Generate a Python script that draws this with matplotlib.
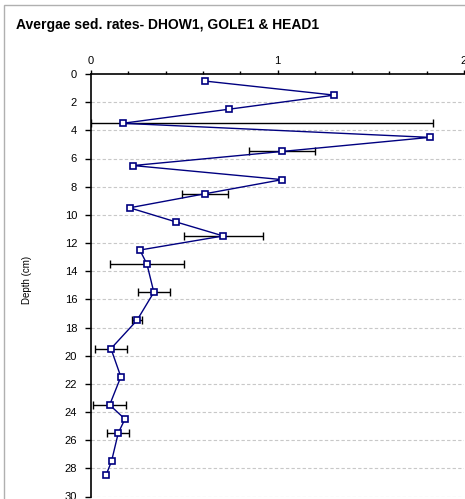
import matplotlib
matplotlib.use("Agg")
import matplotlib.pyplot as plt
from matplotlib.patches import Rectangle
import numpy as np

plt.rcParams['font.family'] = ['Liberation Sans', 'DejaVu Sans']

# depth (cm) and average sedimentation rate
depth = [0.5, 1.5, 2.5, 3.5, 4.5, 5.5, 6.5, 7.5, 8.5, 9.5, 10.5, 11.5,
         12.5, 13.5, 15.5, 17.5, 19.5, 21.5, 23.5, 24.5, 25.5, 27.5, 28.5]
rate = [0.61, 1.305, 0.74, 0.17, 1.816, 1.025, 0.226, 1.025, 0.613, 0.207,
        0.455, 0.709, 0.262, 0.30, 0.337, 0.246, 0.107, 0.16, 0.10, 0.182,
        0.146, 0.11, 0.08]
# horizontal error (0 = no bar)
err = [0, 0, 0, 1.666, 0, 0.176, 0, 0, 0.123, 0, 0, 0.212,
       0, 0.2, 0.084, 0.025, 0.084, 0, 0.09, 0, 0.06, 0, 0]

x_ticks = [0, 1, 2]
y_ticks = list(range(0, 31, 2))

fig = plt.figure(figsize=(4.65, 4.99), dpi=100)
# outer chart border (clipped at right and bottom)
fig.patches.append(Rectangle((4 / 465, -0.1), 1.2, (499 - 5) / 499 + 0.1,
                             transform=fig.transFigure, fill=False,
                             edgecolor='#b0b0b0', linewidth=1))

ax = fig.add_axes([91 / 465, 1 - 496.5 / 499, (464 - 91) / 465, (496.5 - 74) / 499])

d = np.array(depth)
r = np.array(rate)
e = np.array(err)
m = e > 0

# dashed gridlines
for yv in y_ticks[1:]:
    ax.axhline(yv, color='#c8c8c8', linestyle=(0, (3, 2)), linewidth=0.8, zorder=0)

# bars that would go below zero stop at the axis (cap hides under the spine)
lower = np.minimum(e[m], r[m])
ax.errorbar(r[m], d[m], xerr=[lower, e[m]], fmt='none', ecolor='black',
            elinewidth=1, capsize=3, capthick=1, zorder=2)

ax.plot(r, d, color='#000080', linewidth=1, marker='s', markersize=4,
        markerfacecolor='white', markeredgecolor='#000080', markeredgewidth=1.2,
        zorder=3)

ax.set_xlim(0, 2)
ax.set_ylim(30, 0)
ax.xaxis.tick_top()
ax.set_xticks(x_ticks)
ax.set_xticks(np.arange(0, 2.01, 0.2), minor=True)
ax.set_yticks(y_ticks)
ax.tick_params(axis='x', which='major', direction='out', length=3, width=1,
               labelsize=8, pad=3)
ax.tick_params(axis='x', which='minor', direction='out', length=2, width=1)
ax.tick_params(axis='y', direction='out', length=4, width=1, labelsize=8, pad=6)

for s in ['right', 'bottom']:
    ax.spines[s].set_visible(False)
ax.spines['top'].set_linewidth(1.2)
ax.spines['left'].set_linewidth(1.2)
ax.spines['left'].set_zorder(4)
ax.patch.set_alpha(0)

fig.text(27 / 465, 1 - 280 / 499, 'Depth (cm)', rotation=90, fontsize=7,
         ha='center', va='center')
fig.text(16 / 465, 1 - 25 / 499, 'Avergae sed. rates- DHOW1, GOLE1 & HEAD1',
         fontsize=10, fontweight='bold', ha='left', va='center')

fig.savefig('out.png', dpi=100)
